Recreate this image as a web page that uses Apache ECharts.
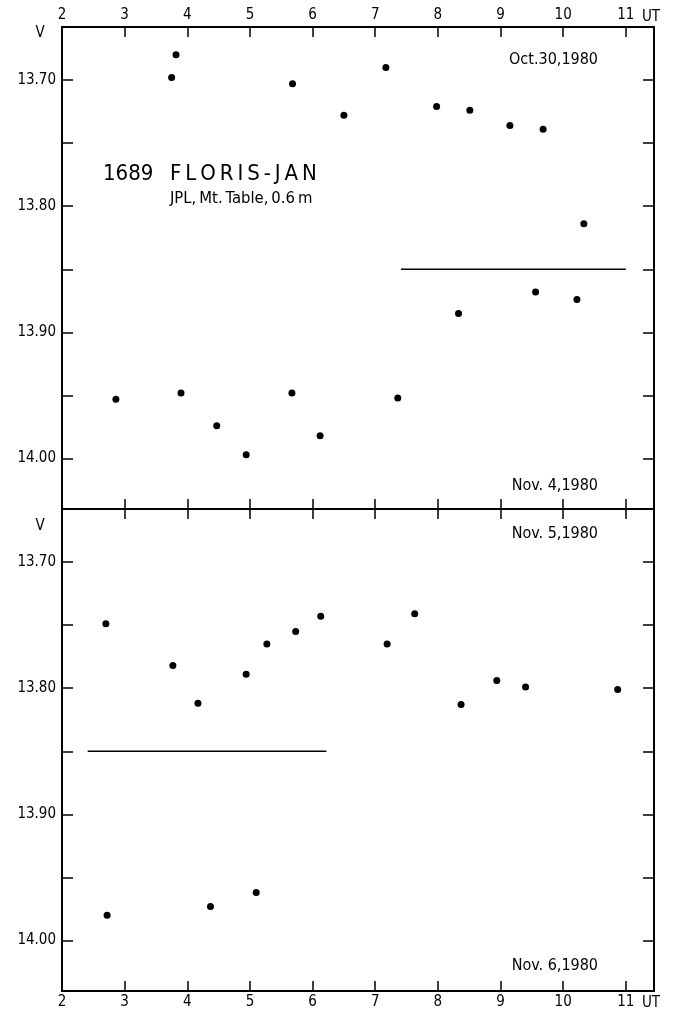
<!DOCTYPE html>
<html>
<head>
<meta charset="utf-8">
<script src="https://cdn.jsdelivr.net/npm/echarts@6/dist/echarts.min.js"></script>
<style>
html, body { margin: 0; padding: 0; background: #fff; }
#main { width: 674px; height: 1011px; }
</style>
</head>
<body>
<div id="main"></div>
<script>
// upper panel: Oct.30,1980 (top sequence) and Nov.4,1980 (bottom sequence)
var oct30UT = [3.75, 3.82, 5.68, 6.50, 7.17, 7.98, 8.51, 9.15, 9.68, 10.33];
var oct30V  = [13.698, 13.680, 13.703, 13.728, 13.690, 13.721, 13.724, 13.736, 13.739, 13.814];
var nov4UT  = [2.86, 3.90, 4.47, 4.94, 5.67, 6.12, 7.36, 8.33, 9.56, 10.22];
var nov4V   = [13.953, 13.948, 13.974, 13.997, 13.948, 13.982, 13.952, 13.885, 13.868, 13.874];

// lower panel: Nov.5,1980 and Nov.6,1980
var nov5UT = [2.70, 3.77, 4.17, 4.94, 5.27, 5.73, 6.13, 7.19, 7.63, 8.37, 8.94, 9.40, 10.87];
var nov5V  = [13.749, 13.782, 13.812, 13.789, 13.765, 13.755, 13.743, 13.765, 13.741, 13.813, 13.794, 13.799, 13.801];
var nov6UT = [2.72, 4.37, 5.10];
var nov6V  = [13.980, 13.973, 13.962];

// separating lines between the two nights in each panel
var topLineUT = [7.41, 11.0];
var bottomLineUT = [2.41, 6.22];
var splitV = 13.85;

var utTicks = [2, 3, 4, 5, 6, 7, 8, 9, 10, 11];
var vTicks = [13.70, 13.75, 13.80, 13.85, 13.90, 13.95, 14.00];
var vLabels = [13.70, 13.80, 13.90, 14.00];

var FONT = "'DejaVu Sans Condensed', 'Liberation Sans Narrow', sans-serif";
var TS = '\u2009'; // thin space, for the spaced-out lettering

function pairs(xs, ys) {
	return xs.map(function (x, i) { return [x, ys[i]]; });
}

function xAxis(grid, pos, labels) {
	return {
		type: 'value', gridIndex: grid, position: pos,
		min: 2, max: 11.45,
		axisLine: { show: true, onZero: false, lineStyle: { color: '#000', width: 2 } },
		axisTick: { show: true, inside: true, length: 10, customValues: utTicks, lineStyle: { color: '#000', width: 1.5 } },
		axisLabel: { show: labels, customValues: utTicks, margin: 4, color: '#000', fontSize: 15, fontFamily: FONT },
		splitLine: { show: false }
	};
}

function yAxis(grid, pos, labels) {
	return {
		type: 'value', gridIndex: grid, position: pos, inverse: true,
		min: 13.658, max: 14.040,
		axisLine: { show: true, onZero: false, lineStyle: { color: '#000', width: 2 } },
		axisTick: { show: true, inside: true, length: 11, customValues: vTicks, lineStyle: { color: '#000', width: 1.5 } },
		axisLabel: {
			show: labels, customValues: vLabels, margin: 6, color: '#000', fontSize: 15, fontFamily: FONT,
			formatter: function (v) { return v.toFixed(2); }
		},
		splitLine: { show: false }
	};
}

function dots(xi, data) {
	return {
		type: 'scatter', xAxisIndex: xi, yAxisIndex: xi === 0 ? 0 : 2,
		data: data, symbol: 'circle', symbolSize: 7,
		itemStyle: { color: '#000', opacity: 1 }, silent: true
	};
}

function rule(xi, xs) {
	return {
		type: 'line', xAxisIndex: xi, yAxisIndex: xi === 0 ? 0 : 2,
		data: xs.map(function (x) { return [x, splitV]; }),
		showSymbol: false, lineStyle: { color: '#000', width: 1.3 }, silent: true
	};
}

function txt(x, y, s, size, align) {
	return {
		type: 'text', x: x, y: y,
		style: { text: s, fill: '#000', font: size + 'px ' + FONT, textAlign: align || 'left', textVerticalAlign: 'middle' }
	};
}

var myChart = echarts.init(document.getElementById('main'));
var option = {
	animation: false,
	backgroundColor: '#fff',
	grid: [
		{ left: 62, top: 27, width: 592, height: 482 },
		{ left: 62, top: 509, width: 592, height: 482 }
	],
	xAxis: [
		xAxis(0, 'top', true),
		xAxis(0, 'bottom', false),
		xAxis(1, 'top', false),
		xAxis(1, 'bottom', true)
	],
	yAxis: [
		yAxis(0, 'left', true),
		yAxis(0, 'right', false),
		yAxis(1, 'left', true),
		yAxis(1, 'right', false)
	],
	series: [
		dots(0, pairs(oct30UT, oct30V)),
		dots(0, pairs(nov4UT, nov4V)),
		rule(0, topLineUT),
		dots(3, pairs(nov5UT, nov5V)),
		dots(3, pairs(nov6UT, nov6V)),
		rule(3, bottomLineUT)
	],
	graphic: [
		txt(40, 33, 'V', 15, 'center'),
		txt(40, 526, 'V', 15, 'center'),
		txt(651, 17, 'UT', 15, 'center'),
		txt(651, 1003, 'UT', 15, 'center'),
		txt(598, 60, 'Oct.30,1980', 16, 'right'),
		txt(598, 486, 'Nov. 4,1980', 16, 'right'),
		txt(598, 534, 'Nov. 5,1980', 16, 'right'),
		txt(598, 966, 'Nov. 6,1980', 16, 'right'),
		txt(103, 174, '1689  ' + TS + 'FLORIS-JAN'.split('').join(TS), 22, 'left'),
		txt(170, 199, 'JPL,' + TS + 'Mt.' + TS + 'Table,' + TS + '0.6' + TS + 'm', 16.5, 'left')
	]
};

myChart.setOption(option);
</script>
</body>
</html>
